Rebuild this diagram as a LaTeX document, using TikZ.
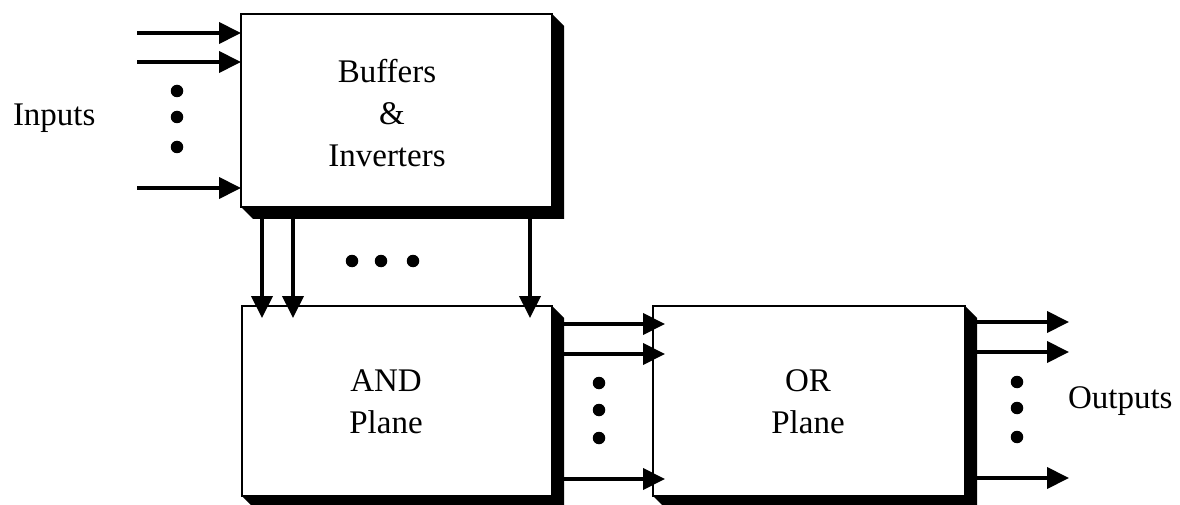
\documentclass[tikz,border=0pt]{standalone}
\usepackage{fontspec}
\setmainfont{Liberation Serif}
\usetikzlibrary{arrows.meta,calc}

\begin{document}
\begin{tikzpicture}[x=1pt,y=1pt,
  every node/.style={font=\fontsize{33}{42}\selectfont, inner sep=0pt, outer sep=0pt},
  block/.style={draw, line width=2.2pt, fill=white},
  sig/.style={line width=4pt, -{Triangle[length=22pt,width=21pt]}},
  dot/.style={circle, fill=black, minimum size=12.5pt, inner sep=0pt}
]
\useasboundingbox (0,0) rectangle (1180,504);

% three blocks of the programmable logic array
\node[block, minimum width=311pt, minimum height=193pt] (buf) at (396.5,393.5) {};
\node[block, minimum width=310pt, minimum height=190pt] (and) at (397,103) {};
\node[block, minimum width=312pt, minimum height=190pt] (or)  at (809,103) {};

% drop shadows (L-shaped, bevelled at the corners)
\foreach \b in {buf,and,or}{
  \fill (\b.north east) -- ++(12,-12) -- ([shift={(12,-12)}]\b.south east)
        -- ([shift={(12,-12)}]\b.south west) -- (\b.south west)
        -- (\b.south east) -- cycle;
}

% block captions
\node[align=center] (buftext) at (387,391) {Buffers\\\hspace*{10pt}\&\\Inverters};
\node[align=center] (andtext) at (386,102) {AND\\Plane};
\node[align=center] (ortext)  at (808,102) {OR\\Plane};

% inputs
\node[anchor=base west] (inlabel) at (13,378) {Inputs};
\coordinate (i1) at (137,471);
\coordinate (i2) at (137,442);
\coordinate (i3) at (137,316);
\foreach \i in {i1,i2,i3} \draw[sig] (\i) -- (\i -| buf.west);
\node[dot] (id1) at (177,413) {};
\node[dot] (id2) at (177,387) {};
\node[dot] (id3) at (177,357) {};

% buffers -> AND plane
\foreach \dx in {21,52,289}
  \draw[sig] ([shift={(\dx,-12)}]buf.south west) -- ([shift={(\dx,-12)}]buf.south west |- and.north);
\node[dot] (bd1) at (352,243) {};
\node[dot] (bd2) at (381,243) {};
\node[dot] (bd3) at (413,243) {};

% AND plane -> OR plane
\foreach \dy in {18,48,173}
  \draw[sig] ([shift={(12,-\dy)}]and.north east) -- ([shift={(12,-\dy)}]and.north east -| or.west);
\node[dot] (ad1) at (599,121) {};
\node[dot] (ad2) at (599,94) {};
\node[dot] (ad3) at (599,66) {};

% outputs
\coordinate (o1) at (1069,182);
\coordinate (o2) at (1069,152);
\coordinate (o3) at (1069,26);
\foreach \o in {o1,o2,o3} \draw[sig] ([xshift=12pt]or.east |- \o) -- (\o);
\node[dot] (od1) at (1017,122) {};
\node[dot] (od2) at (1017,96) {};
\node[dot] (od3) at (1017,67) {};
\node[anchor=base west] (outlabel) at (1068,96) {Outputs};
\end{tikzpicture}
\end{document}
